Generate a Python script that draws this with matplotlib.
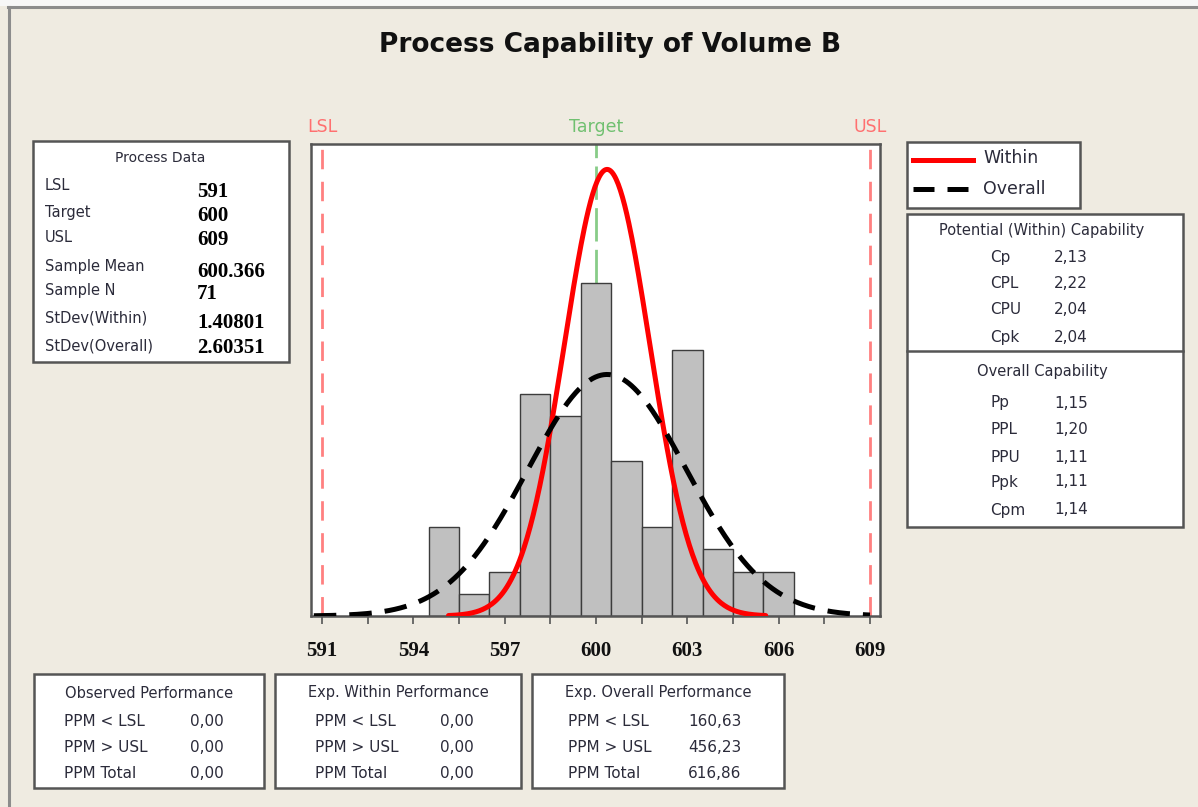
import numpy as np
import matplotlib
matplotlib.use("Agg")
import matplotlib.pyplot as plt
from matplotlib.patches import Rectangle
from matplotlib.lines import Line2D

# ---------------- data ----------------
bin_centers = [595, 596, 597, 598, 599, 600, 601, 602, 603, 604, 605, 606]
counts = [4, 1, 2, 10, 9, 15, 7, 4, 12, 3, 2, 2]
bin_width = 1.0
lsl, target, usl = 591, 600, 609
sample_mean = 600.366
sample_n = 71
sd_within = 1.40801
sd_overall = 2.60351
x_ticks = [591, 592.5, 594, 595.5, 597, 598.5, 600, 601.5, 603, 604.5, 606, 607.5, 609]
x_tick_labels = ["591", "", "594", "", "597", "", "600", "", "603", "", "606", "", "609"]

process_labels = ["LSL", "Target", "USL", "Sample Mean", "Sample N", "StDev(Within)", "StDev(Overall)"]
process_values = ["591", "600", "609", "600.366", "71", "1.40801", "2.60351"]
within_names = ["Cp", "CPL", "CPU", "Cpk"]
within_values = ["2,13", "2,22", "2,04", "2,04"]
overall_names = ["Pp", "PPL", "PPU", "Ppk", "Cpm"]
overall_values = ["1,15", "1,20", "1,11", "1,11", "1,14"]
perf_rows = ["PPM < LSL", "PPM > USL", "PPM Total"]
observed_perf = ["0,00", "0,00", "0,00"]
within_perf = ["0,00", "0,00", "0,00"]
overall_perf = ["160,63", "456,23", "616,86"]

# ---------------- figure ----------------
W, H = 1198, 807
BG = "#efebe1"
EDGE = "#555555"
TXT = "#2b2b3a"
fig = plt.figure(figsize=(W / 100, H / 100), dpi=100, facecolor=BG)

def fx(x):
    return x / W

def fy(y):
    return 1 - y / H

# outer window frame (top and left only)
fig.add_artist(Rectangle((0, fy(6)), 1, fy(0) - fy(6), transform=fig.transFigure,
                         facecolor="#f7f7f7", edgecolor="none", zorder=0))
fig.add_artist(Line2D([fx(8), 1], [fy(7), fy(7)], transform=fig.transFigure,
                      color="#8c8c8c", lw=2.2, zorder=1))
fig.add_artist(Line2D([fx(9), fx(9)], [fy(7), 0], transform=fig.transFigure,
                      color="#8c8c8c", lw=2.2, zorder=1))

def box(x0, y0, x1, y1):
    fig.add_artist(Rectangle((fx(x0), fy(y1)), (x1 - x0) / W, (y1 - y0) / H,
                             transform=fig.transFigure, facecolor="white",
                             edgecolor=EDGE, lw=1.8, zorder=1))

def t(x, y, s, **kw):
    kw.setdefault("color", TXT)
    kw.setdefault("va", "center")
    fig.text(fx(x), fy(y), s, **kw)

# title
t(610, 45, "Process Capability of Volume B", ha="center", fontsize=19,
  fontweight="bold", color="#111111")

# ---------------- main axes ----------------
ax = fig.add_axes([fx(311), fy(616), (880 - 311) / W, (616 - 144) / H])
ax.set_facecolor("white")
ax.set_xlim(590.64, 609.33)
ax.set_ylim(0, 472 / 22.2)

ax.bar(bin_centers, counts, width=bin_width, color="#c0c0c0", edgecolor="#3c3c3c",
       lw=1.0, zorder=2)

scale = sample_n * bin_width
xw = np.linspace(sample_mean - 3.7 * sd_within, sample_mean + 3.7 * sd_within, 300)
yw = scale * np.exp(-0.5 * ((xw - sample_mean) / sd_within) ** 2) / (sd_within * np.sqrt(2 * np.pi))
ax.plot(xw, yw, color="red", lw=3.6, zorder=4, solid_capstyle="round")

xo = np.linspace(sample_mean - 3.7 * sd_overall, usl, 400)
yo = scale * np.exp(-0.5 * ((xo - sample_mean) / sd_overall) ** 2) / (sd_overall * np.sqrt(2 * np.pi))
ax.plot(xo, yo, color="black", lw=3.6, dashes=(4.5, 2.6), zorder=5)

for v in (lsl, usl):
    ax.axvline(v, color="#ff8080", lw=2.0, dashes=(7, 4.5), zorder=1)
ax.axvline(target, color="#88cc88", lw=2.0, dashes=(12, 3), zorder=1)

for s in ax.spines.values():
    s.set_color(EDGE)
    s.set_linewidth(1.8)

ax.set_yticks([])
ax.set_xticks(x_ticks)
ax.set_xticklabels(x_tick_labels, fontfamily="Liberation Serif", fontweight="bold",
                   fontsize=15, color="#111111")
ax.tick_params(axis="x", length=6, width=1.2, color=EDGE, pad=12)

# spec labels above axes
for v, s, c in [(lsl, "LSL", "#ff7070"), (target, "Target", "#70c070"), (usl, "USL", "#ff7070")]:
    ax.annotate(s, xy=(v, 1.0), xycoords=ax.get_xaxis_transform(), xytext=(0, 6),
                textcoords="offset points", ha="center", va="bottom", color=c, fontsize=12.5)

# ---------------- process data box ----------------
box(33, 141, 289, 362)
t(160, 158, "Process Data", ha="center", fontsize=10)
label_y = [185, 212, 238, 266, 291, 318, 346]
value_y = [192, 216, 240, 272, 294, 323, 348]
for lab, ly in zip(process_labels, label_y):
    t(45, ly, lab, ha="left", fontsize=10.5)
for val, vy in zip(process_values, value_y):
    t(197, vy, val, ha="left", fontsize=15, fontfamily="Liberation Serif",
      fontweight="bold", color="#000000")

# ---------------- legend box ----------------
box(907, 142, 1080, 208)
fig.add_artist(Line2D([fx(913), fx(973)], [fy(160), fy(160)], transform=fig.transFigure,
                      color="red", lw=3.6, zorder=2))
fig.add_artist(Line2D([fx(913), fx(973)], [fy(189), fy(189)], transform=fig.transFigure,
                      color="black", lw=3.6, dashes=(4.2, 2.6), zorder=2))
t(983, 158, "Within", ha="left", fontsize=12.5)
t(983, 189, "Overall", ha="left", fontsize=12.5)

# ---------------- capability box ----------------
box(907, 214, 1183, 527)
fig.add_artist(Line2D([fx(907), fx(1183)], [fy(351), fy(351)], transform=fig.transFigure,
                      color=EDGE, lw=1.8, zorder=2))
t(1042, 230, "Potential (Within) Capability", ha="center", fontsize=10.5)
for nm, vl, yy in zip(within_names, within_values, [258, 284, 309, 337]):
    t(990, yy, nm, ha="left", fontsize=11)
    t(1054, yy, vl, ha="left", fontsize=11)
t(1042, 372, "Overall Capability", ha="center", fontsize=10.5)
for nm, vl, yy in zip(overall_names, overall_values, [403, 430, 457, 482, 510]):
    t(990, yy, nm, ha="left", fontsize=11)
    t(1054, yy, vl, ha="left", fontsize=11)

# ---------------- performance boxes ----------------
perf_boxes = [
    ((34, 264), "Observed Performance", observed_perf, 64, 190),
    ((275, 521), "Exp. Within Performance", within_perf, 315, 440),
    ((532, 784), "Exp. Overall Performance", overall_perf, 568, 688),
]
for (x0, x1), title, vals, lx, vx in perf_boxes:
    box(x0, 674, x1, 788)
    t((x0 + x1) / 2, 693, title, ha="center", fontsize=10.5)
    for r, v, yy in zip(perf_rows, vals, [721, 747, 773]):
        t(lx, yy, r, ha="left", fontsize=11)
        t(vx, yy, v, ha="left", fontsize=11)

fig.savefig("out.png", dpi=100, facecolor=fig.get_facecolor())
